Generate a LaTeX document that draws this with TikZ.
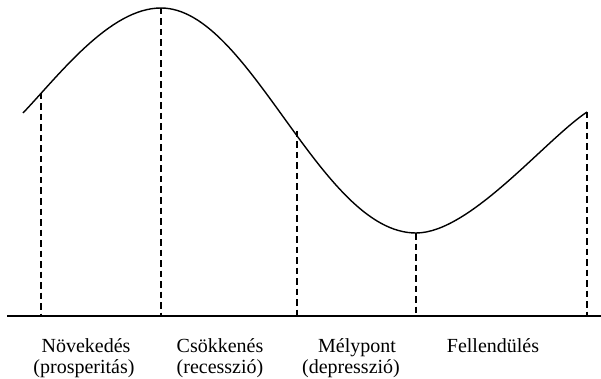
\documentclass[tikz,border=0pt]{standalone}
\usepackage{fontspec}
\setmainfont{Liberation Serif}
\begin{document}
\begin{tikzpicture}[x=1pt,y=-1pt,
  curve/.style={line width=1.4pt,black},
  axisline/.style={line width=1.4pt,black},
  guide/.style={line width=1.1pt,black,dash pattern=on 6.5pt off 4pt},
  lab/.style={inner sep=0pt,font=\fontsize{20}{22}\selectfont,anchor=base}]
\useasboundingbox (0,0) rectangle (601,379);
% curve points
\coordinate (A) at (23,113);
\coordinate (P) at (161,8);
\coordinate (M) at (416,233);
\coordinate (E) at (587,112);
\coordinate (B) at (41,93);
\coordinate (C) at (297,131);
% axis end points
\coordinate (xl) at (7,316);
\coordinate (xr) at (601,316);
\coordinate (bB) at (41,316);
\coordinate (bP) at (161,316);
\coordinate (bC) at (297,316);
\coordinate (bM) at (416,316);
\coordinate (bE) at (587,316);
\draw[curve] (A) .. controls (60,74) and (110,8) .. (P)
  .. controls (250,8) and (320,233) .. (M)
  .. controls (470,233) and (545,140) .. (E);
\draw[axisline] (xl) -- (xr);
\draw[guide] (B) -- (bB);
\draw[guide] (P) -- (bP);
\draw[guide] (C) -- (bC);
\draw[guide] (M) -- (bM);
\draw[guide] (E) -- (bE);
\node[lab] (n1) at (86,352) {Növekedés};
\node[lab] (n1b) at (84,373) {(prosperitás)};
\node[lab] (n2) at (220,352) {Csökkenés};
\node[lab] (n2b) at (220,373) {(recesszió)};
\node[lab] (n3) at (357,352) {Mélypont};
\node[lab] (n3b) at (351,373) {(depresszió)};
\node[lab] (n4) at (493,352) {Fellendülés};
\end{tikzpicture}
\end{document}
